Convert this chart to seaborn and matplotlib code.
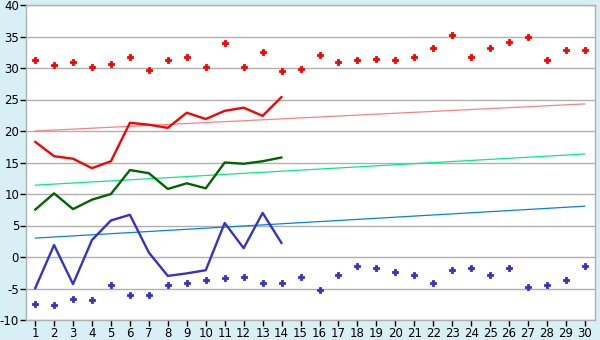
import matplotlib
matplotlib.use("Agg")
import matplotlib.pyplot as plt
import seaborn as sns
import pandas as pd

days = list(range(1, 31))
days14 = list(range(1, 15))

max_points = [31.3, 30.5, 30.9, 30.1, 30.7, 31.8, 29.7, 31.3, 31.7, 30.1,
              34.0, 30.2, 32.5, 29.6, 29.9, 32.1, 30.9, 31.3, 31.5, 31.3,
              31.8, 33.2, 35.3, 31.7, 33.2, 34.2, 35.0, 31.2, 32.8, 32.8]
min_points = [-7.4, -7.6, -6.6, -6.9, -4.5, -6.0, -6.1, -4.5, -4.2, -3.7,
              -3.4, -3.1, -4.2, -4.2, -3.1, -5.3, -2.9, -1.5, -1.8, -2.4,
              -2.9, -4.2, -2.0, -1.8, -2.9, -1.8, -4.7, -4.5, -3.7, -1.5]
max_line = [18.3, 16.0, 15.6, 14.1, 15.2, 21.3, 21.0, 20.5, 22.9, 21.9,
            23.2, 23.7, 22.4, 25.4]
mean_line = [7.5, 10.1, 7.6, 9.1, 10.0, 13.8, 13.3, 10.8, 11.7, 10.9,
             15.0, 14.8, 15.2, 15.8]
min_line = [-5.0, 1.9, -4.3, 2.7, 5.8, 6.7, 0.7, -3.0, -2.6, -2.1,
            5.4, 1.4, 7.0, 2.2]
trend_days = [1, 30]
trend_max = [20.0, 24.3]
trend_mean = [11.4, 16.35]
trend_min = [3.0, 8.07]
yticks = list(range(-10, 45, 5))

sns.set_style("white")
plt.rcParams['font.family'] = ['DejaVu Sans']

fig = plt.figure(figsize=(6, 3.4), dpi=100)
fig.patch.set_facecolor('#d9eff6')
ax = fig.add_axes([26/600, 20/340, 569/600, 315/340])
ax.set_facecolor('white')

tdf = pd.DataFrame({'day': trend_days, 'tmax': trend_max, 'tmean': trend_mean, 'tmin': trend_min})
sns.lineplot(data=tdf, x='day', y='tmax', color='#ff8080', lw=0.9, ax=ax)
sns.lineplot(data=tdf, x='day', y='tmean', color='#00f080', lw=0.9, ax=ax)
sns.lineplot(data=tdf, x='day', y='tmin', color='#0080ff', lw=0.9, ax=ax)

ldf = pd.DataFrame({'day': days14, 'max': max_line, 'mean': mean_line, 'min': min_line})
sns.lineplot(data=ldf, x='day', y='max', color='#ff0000', lw=1.7, ax=ax)
sns.lineplot(data=ldf, x='day', y='mean', color='#006400', lw=1.7, ax=ax)
sns.lineplot(data=ldf, x='day', y='min', color='#3333cc', lw=1.7, ax=ax)

pdf = pd.DataFrame({'day': days, 'max': max_points, 'min': min_points})
sns.scatterplot(data=pdf, x='day', y='max', color='#ff0000', marker='P', s=16,
                linewidth=0.6, edgecolor='#ff0000', ax=ax)
sns.scatterplot(data=pdf, x='day', y='min', color='#3333cc', marker='P', s=16,
                linewidth=0.6, edgecolor='#3333cc', ax=ax)

ax.set_xlim(0.52, 30.53)
ax.set_ylim(-10, 40)
ax.set_xticks(days)
ax.set_yticks(yticks)
ax.set_xticklabels([str(d) for d in days], fontsize=8.5)
ax.set_yticklabels([str(v) for v in yticks], fontsize=8.5)
ax.set_xlabel('')
ax.set_ylabel('')
ax.grid(axis='y', color='#b0b0b0', lw=1)
ax.set_axisbelow(True)
for s in ax.spines.values():
    s.set_color('#b0b0b0')
    s.set_linewidth(1)
ax.tick_params(axis='both', which='both', length=4, width=1, color='#000000',
               labelcolor='black', pad=1, bottom=True, left=True)
fig.savefig('out.png', dpi=100, facecolor=fig.get_facecolor())
